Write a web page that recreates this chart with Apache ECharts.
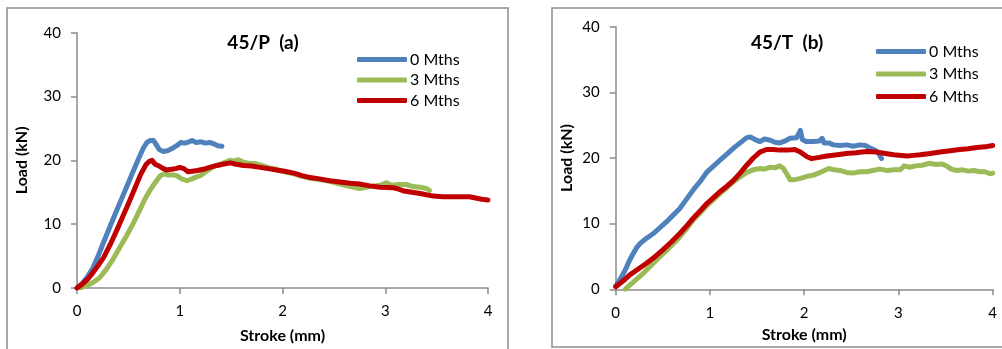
<!DOCTYPE html>
<html>
<head>
<meta charset="utf-8">
<script src="https://cdn.jsdelivr.net/npm/echarts@6/dist/echarts.min.js"></script>
<style>
html,body{margin:0;padding:0;background:#fff;}
#c{width:1002px;height:349px;}
</style>
</head>
<body>
<div id="c"></div>
<script>
// ---- data (Stroke mm, Load kN) ----
const seriesNames = ['0 Mths', '3 Mths', '6 Mths'];
const titles = ['45/P  (a)', '45/T  (b)'];
const xTicks = [0, 1, 2, 3, 4];
const yTicks = [0, 10, 20, 30, 40];

const P_0 = [[0,0],[0.05,0.7],[0.1,1.7],[0.15,3.0],[0.2,4.8],[0.26,7.2],[0.32,9.6],[0.38,11.9],[0.44,14.2],[0.50,16.5],[0.55,18.4],[0.60,20.3],[0.645,21.9],[0.68,22.8],[0.71,23.1],[0.745,23.1],[0.77,22.5],[0.80,21.7],[0.84,21.4],[0.88,21.5],[0.93,21.9],[0.97,22.3],[1.01,22.8],[1.05,22.7],[1.09,22.9],[1.12,23.1],[1.16,22.8],[1.21,22.9],[1.25,22.7],[1.29,22.8],[1.33,22.6],[1.37,22.3],[1.41,22.2]];
const P_3 = [[0.03,0],[0.1,0.4],[0.16,0.9],[0.22,1.6],[0.28,2.8],[0.35,4.5],[0.41,6.2],[0.48,8.1],[0.55,10.2],[0.61,12.2],[0.66,13.9],[0.71,15.3],[0.76,16.5],[0.81,17.6],[0.85,17.9],[0.89,17.7],[0.94,17.7],[0.97,17.6],[1.02,17.1],[1.07,16.8],[1.12,17.1],[1.16,17.4],[1.20,17.6],[1.26,18.3],[1.33,19.0],[1.40,19.4],[1.49,20.0],[1.53,19.9],[1.57,20.1],[1.62,19.7],[1.68,19.5],[1.73,19.5],[1.78,19.3],[1.86,18.9],[1.94,18.6],[2.02,18.2],[2.11,17.9],[2.19,17.5],[2.27,17.2],[2.36,17.0],[2.46,16.7],[2.56,16.3],[2.66,15.9],[2.75,15.6],[2.85,15.9],[2.95,16.1],[3.01,16.5],[3.06,16.1],[3.13,16.2],[3.21,16.2],[3.27,15.9],[3.34,15.8],[3.40,15.6],[3.43,15.3]];
const P_6 = [[0,0],[0.05,0.6],[0.1,1.3],[0.15,2.3],[0.2,3.4],[0.26,4.8],[0.32,6.7],[0.38,8.8],[0.44,11.0],[0.50,13.2],[0.56,15.5],[0.62,17.8],[0.67,19.3],[0.70,19.8],[0.73,20.0],[0.76,19.4],[0.80,19.1],[0.84,18.7],[0.87,18.5],[0.92,18.6],[0.96,18.7],[1.0,18.9],[1.04,18.7],[1.08,18.2],[1.12,18.3],[1.17,18.4],[1.23,18.6],[1.29,18.9],[1.36,19.2],[1.42,19.4],[1.49,19.6],[1.55,19.4],[1.62,19.2],[1.70,19.1],[1.78,18.9],[1.86,18.7],[1.94,18.5],[2.02,18.3],[2.11,18.0],[2.19,17.6],[2.27,17.3],[2.36,17.1],[2.46,16.8],[2.56,16.6],[2.66,16.4],[2.75,16.3],[2.85,16.0],[2.95,15.8],[3.08,15.7],[3.13,15.5],[3.18,15.2],[3.26,15.0],[3.34,14.8],[3.40,14.6],[3.47,14.4],[3.56,14.3],[3.66,14.3],[3.74,14.3],[3.82,14.3],[3.88,14.1],[3.94,13.9],[4.0,13.8]];

const T_0 = [[0,0.5],[0.05,1.6],[0.1,2.9],[0.14,4.2],[0.18,5.3],[0.22,6.3],[0.26,7.0],[0.32,7.7],[0.40,8.5],[0.47,9.4],[0.54,10.3],[0.61,11.3],[0.68,12.3],[0.75,13.7],[0.82,15.1],[0.90,16.5],[0.97,17.9],[1.04,18.8],[1.11,19.7],[1.18,20.6],[1.25,21.5],[1.32,22.3],[1.39,23.1],[1.43,23.2],[1.48,22.8],[1.53,22.5],[1.58,22.9],[1.64,22.7],[1.69,22.4],[1.74,22.3],[1.80,22.6],[1.85,23.0],[1.92,23.1],[1.94,23.2],[1.96,24.2],[1.98,22.8],[2.02,22.5],[2.10,22.5],[2.16,22.6],[2.19,23.0],[2.21,22.3],[2.26,22.3],[2.31,22.0],[2.38,21.9],[2.45,22.0],[2.52,21.8],[2.59,22.0],[2.65,21.9],[2.70,21.5],[2.75,21.2],[2.79,20.7],[2.82,19.9]];
const T_3 = [[0.1,0],[0.18,1.0],[0.29,2.4],[0.38,3.7],[0.47,5.0],[0.56,6.2],[0.65,7.5],[0.74,9.0],[0.82,10.5],[0.90,11.7],[0.97,12.8],[1.04,13.7],[1.11,14.6],[1.18,15.5],[1.25,16.4],[1.32,17.1],[1.39,17.8],[1.46,18.2],[1.53,18.4],[1.58,18.3],[1.64,18.6],[1.69,18.5],[1.74,18.8],[1.78,18.4],[1.81,17.7],[1.85,16.7],[1.90,16.7],[1.96,16.9],[2.03,17.2],[2.10,17.4],[2.17,17.8],[2.26,18.4],[2.32,18.2],[2.38,18.1],[2.45,17.8],[2.52,17.7],[2.59,17.9],[2.66,17.9],[2.73,18.1],[2.80,18.3],[2.88,18.1],[2.95,18.2],[3.02,18.2],[3.06,18.8],[3.12,18.6],[3.18,18.8],[3.25,18.9],[3.33,19.2],[3.40,19.0],[3.46,19.1],[3.51,18.8],[3.56,18.3],[3.62,18.1],[3.68,18.2],[3.74,18.0],[3.80,18.1],[3.86,17.9],[3.92,17.9],[3.97,17.6],[4.0,17.7]];
const T_6 = [[0,0.4],[0.08,1.3],[0.15,2.2],[0.24,3.1],[0.33,4.0],[0.42,5.0],[0.50,6.0],[0.59,7.2],[0.68,8.5],[0.75,9.6],[0.82,10.8],[0.90,12.0],[0.97,13.1],[1.04,14.0],[1.11,14.9],[1.18,15.7],[1.25,16.6],[1.32,17.7],[1.39,18.9],[1.46,20.0],[1.53,20.9],[1.60,21.3],[1.67,21.3],[1.74,21.2],[1.82,21.2],[1.90,21.3],[1.96,20.9],[2.03,20.2],[2.08,19.9],[2.16,20.1],[2.24,20.3],[2.35,20.5],[2.45,20.7],[2.55,20.8],[2.66,21.0],[2.77,20.9],[2.86,20.7],[2.95,20.5],[3.09,20.3],[3.16,20.4],[3.23,20.5],[3.34,20.7],[3.44,20.9],[3.55,21.1],[3.65,21.3],[3.74,21.4],[3.83,21.6],[3.92,21.7],[4.0,21.9]];

const colors = ['#4F81BD', '#9BBB59', '#C00000'];

// ---- chart ----
const FONT = 'Lato, "Noto Sans", sans-serif';
const AX = '#8a8a8a';
const chart = echarts.init(document.getElementById('c'), null, {renderer: 'canvas'});

function xAxisOf(gi, gap, margin) {
  return {
    type: 'value', gridIndex: gi, min: xTicks[0], max: xTicks[xTicks.length - 1], interval: 1,
    name: 'Stroke (mm)', nameLocation: 'middle', nameGap: gap,
    nameTextStyle: {fontFamily: FONT, fontWeight: 'bold', fontSize: 16, color: '#000'},
    axisLine: {show: true, onZero: false, lineStyle: {color: AX, width: 1.5}},
    axisTick: {show: true, length: 6, lineStyle: {color: AX, width: 1.5}},
    axisLabel: {fontFamily: FONT, fontSize: 15, color: '#000', margin: margin},
    splitLine: {show: false}
  };
}
function yAxisOf(gi, gap) {
  return {
    type: 'value', gridIndex: gi, min: yTicks[0], max: yTicks[yTicks.length - 1], interval: 10,
    name: 'Load (kN)', nameLocation: 'middle', nameGap: gap, nameRotate: 90,
    nameTextStyle: {fontFamily: FONT, fontWeight: 'bold', fontSize: 16, color: '#000'},
    axisLine: {show: true, lineStyle: {color: AX, width: 1.5}},
    axisTick: {show: true, length: 6, lineStyle: {color: AX, width: 1.5}},
    axisLabel: {fontFamily: FONT, fontSize: 15, color: '#000', margin: 16},
    splitLine: {show: false}
  };
}
function lineSeries(name, data, gi, ci) {
  return {
    type: 'line', name: name, data: data, xAxisIndex: gi, yAxisIndex: gi,
    showSymbol: false, symbol: 'none', smooth: false, clip: true,
    lineStyle: {color: colors[ci], width: 5, cap: 'round', join: 'round'},
    itemStyle: {color: colors[ci]}
  };
}
function legendOf(left, top, gap) {
  return {
    orient: 'vertical', left: left, top: top, itemGap: gap,
    itemWidth: 50, itemHeight: 5, icon: 'roundRect',
    data: seriesNames,
    textStyle: {fontFamily: FONT, fontSize: 16, color: '#000', lineHeight: 17, padding: [0, 0, 0, -2]},
    selectedMode: false
  };
}

chart.setOption({
  animation: false,
  backgroundColor: '#fff',
  title: [
    {text: titles[0], left: 258, top: 28, textAlign: 'center',
     textStyle: {fontFamily: FONT, fontWeight: 'bold', fontSize: 19, color: '#000'}},
    {text: titles[1], left: 782, top: 28, textAlign: 'center',
     textStyle: {fontFamily: FONT, fontWeight: 'bold', fontSize: 19, color: '#000'}}
  ],
  legend: [legendOf(352, 46, 3.5), legendOf(871, 38, 5.5)],
  grid: [
    {left: 77, top: 32.7, width: 411, height: 260, containLabel: false},
    {left: 615.7, top: 26.7, width: 377, height: 262.6, containLabel: false}
  ],
  xAxis: [xAxisOf(0, 40, 16), xAxisOf(1, 38, 16)],
  yAxis: [yAxisOf(0, 47), yAxisOf(1, 41)],
  series: [
    lineSeries(seriesNames[0], P_0, 0, 0),
    lineSeries(seriesNames[1], P_3, 0, 1),
    lineSeries(seriesNames[2], P_6, 0, 2),
    lineSeries(seriesNames[0], T_0, 1, 0),
    lineSeries(seriesNames[1], T_3, 1, 1),
    lineSeries(seriesNames[2], T_6, 1, 2)
  ],
  graphic: [
    {type: 'polyline', silent: true, z: -1,
     shape: {points: [[7, 350], [7, 8], [508, 8], [508, 350]]},
     style: {stroke: '#8c8c8c', lineWidth: 1.5, fill: null}},
    {type: 'rect', silent: true, z: -1,
     shape: {x: 552, y: 8, width: 460, height: 339},
     style: {stroke: '#8c8c8c', lineWidth: 1.5, fill: null}}
  ]
});
</script>
</body>
</html>
